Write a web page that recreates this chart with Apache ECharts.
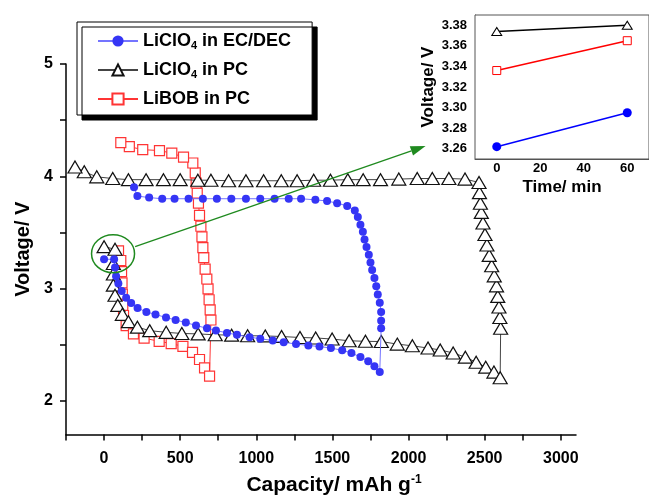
<!DOCTYPE html>
<html>
<head>
<meta charset="utf-8">
<script src="https://cdn.jsdelivr.net/npm/echarts@6/dist/echarts.min.js"></script>
<style>
html, body { margin: 0; padding: 0; background: #fff; }
#chart { width: 649px; height: 501px; }
</style>
</head>
<body>
<div id="chart"></div>
<script>
var FONT = "'Liberation Sans', Arial, sans-serif";

// main plot: capacity (mAh/g) / voltage (V), discharge branch then charge branch
var ecdecCap = [0, 66, 72, 79, 94, 116, 145, 178, 220, 278, 338, 407, 470, 537, 604, 676, 735, 807, 873, 956, 1026, 1108, 1180, 1261, 1342, 1415, 1490, 1564, 1625, 1684, 1735, 1776, 1811,
    1820, 1820, 1820, 1811, 1798, 1788, 1776, 1761, 1750, 1739, 1724, 1711, 1700, 1684, 1667, 1647, 1597, 1531, 1465, 1388, 1294, 1213, 1120, 1026, 932, 836, 741, 649, 555, 463, 382, 296, 219, 197];
var ecdecVolt = [3.262, 3.26, 3.188, 3.11, 3.045, 2.978, 2.917, 2.872, 2.826, 2.792, 2.769, 2.742, 2.72, 2.697, 2.671, 2.646, 2.627, 2.605, 2.588, 2.567, 2.553, 2.537, 2.521, 2.506, 2.493, 2.483, 2.47, 2.45, 2.426, 2.39, 2.353, 2.309, 2.256,
    2.646, 2.713, 2.792, 2.874, 2.948, 3.021, 3.094, 3.165, 3.232, 3.30, 3.37, 3.437, 3.505, 3.569, 3.637, 3.696, 3.736, 3.76, 3.78, 3.79, 3.80, 3.80, 3.80, 3.80, 3.80, 3.80, 3.80, 3.80, 3.80, 3.80, 3.80, 3.81, 3.824, 3.903];

var pcCap = [0, 72, 61, 61, 61, 72, 90, 120, 160, 219, 300, 408, 511, 618, 730, 838, 943, 1059, 1166, 1287, 1390, 1498, 1610, 1717, 1821, 1926, 2025, 2128, 2208, 2293, 2373, 2444, 2507, 2561, 2602,
    2605, 2600, 2594, 2586, 2578, 2563, 2546, 2530, 2515, 2502, 2489, 2478, 2472, 2466, 2463, 2371, 2265, 2156, 2057, 1936, 1816, 1702, 1601, 1487, 1377, 1268, 1164, 1048, 932, 818, 702, 616, 500, 390, 276, 160, 57, -48, -130, -191];
var pcVolt = [3.373, 3.35, 3.223, 3.13, 3.03, 2.94, 2.85, 2.77, 2.705, 2.656, 2.625, 2.61, 2.60, 2.596, 2.588, 2.585, 2.58, 2.578, 2.573, 2.564, 2.56, 2.55, 2.535, 2.53, 2.528, 2.505, 2.49, 2.47, 2.453, 2.426, 2.389, 2.344, 2.30, 2.256, 2.206,
    2.646, 2.742, 2.836, 2.93, 3.024, 3.113, 3.203, 3.295, 3.388, 3.481, 3.584, 3.678, 3.76, 3.854, 3.945, 3.975, 3.98, 3.98, 3.98, 3.975, 3.97, 3.97, 3.97, 3.965, 3.965, 3.96, 3.96, 3.96, 3.96, 3.96, 3.965, 3.965, 3.97, 3.97, 3.97, 3.97, 3.98, 3.995, 4.04, 4.083];

var bobCap = [95, 110, 115, 118, 120, 123, 128, 145, 193, 263, 362, 441, 518, 581, 627, 660, 693,
    702, 697, 690, 683, 675, 664, 655, 649, 643, 636, 627, 620, 612, 605, 599, 583, 522, 445, 364, 254, 166, 110];
var bobVolt = [3.336, 3.25, 3.15, 3.05, 2.95, 2.85, 2.76, 2.67, 2.596, 2.558, 2.53, 2.51, 2.485, 2.432, 2.368, 2.294, 2.22,
    2.72, 2.81, 2.90, 2.997, 3.085, 3.173, 3.276, 3.364, 3.461, 3.555, 3.652, 3.76, 3.85, 3.94, 4.03, 4.118, 4.17, 4.206, 4.229, 4.237, 4.264, 4.30];

// inset: open-circuit voltage after rest
var insetTime = [0, 60];
var insetEcdec = [3.262, 3.295];
var insetPc = [3.374, 3.380];
var insetBob = [3.336, 3.365];

var capTicks = [-250, 0, 250, 500, 750, 1000, 1250, 1500, 1750, 2000, 2250, 2500, 2750, 3000];
var capLabels = [0, 500, 1000, 1500, 2000, 2500, 3000];
var voltTicks = [2, 2.5, 3, 3.5, 4, 4.5, 5];
var voltLabels = [2, 3, 4, 5];
var insetVoltTicks = [3.25, 3.26, 3.27, 3.28, 3.29, 3.30, 3.31, 3.32, 3.33, 3.34, 3.35, 3.36, 3.37, 3.38, 3.39];
var insetVoltLabels = [3.26, 3.28, 3.30, 3.32, 3.34, 3.36, 3.38];
var insetTimeTicks = [-10, 0, 10, 20, 30, 40, 50, 60, 70];
var insetTimeLabels = [0, 20, 40, 60];

var legendNames = ['LiClO4 in EC/DEC', 'LiClO4 in PC', 'LiBOB in PC'];

function zip(xs, ys) {
    return xs.map(function (x, i) { return [x, ys[i]]; });
}

var myChart = echarts.init(document.getElementById('chart'), null, {renderer: 'canvas'});

var labelStyle = {color: '#000', fontFamily: FONT, fontWeight: 'bold', fontSize: 16};
var insetLabelStyle = {color: '#000', fontFamily: FONT, fontWeight: 'bold', fontSize: 13};

var option = {
    animation: false,
    backgroundColor: '#fff',
    textStyle: {fontFamily: FONT},
    grid: [
        {left: 66, right: 73, top: 64, bottom: 62},
        {left: 475, right: -3, top: 15, bottom: 342, show: true, borderColor: '#555', borderWidth: 1, backgroundColor: '#fff', z: 5}
    ],
    legend: {
        data: legendNames,
        orient: 'vertical',
        left: 77,
        top: 22,
        padding: [10, 21, 7, 20],
        itemGap: 9.5,
        itemWidth: 40,
        itemHeight: 14,
        backgroundColor: '#fff',
        borderColor: '#000',
        borderWidth: 1,
        shadowColor: '#000',
        shadowBlur: 0.01,
        shadowOffsetX: 5,
        shadowOffsetY: 5,
        formatter: function (name) {
            if (name.indexOf('LiClO4') === 0) {
                return '{n|LiClO}{s|4}{n|' + name.slice(6) + '}';
            }
            return '{n|' + name + '}';
        },
        textStyle: {
            rich: {
                n: {fontFamily: FONT, fontWeight: 'bold', fontSize: 18, color: '#000'},
                s: {fontFamily: FONT, fontWeight: 'bold', fontSize: 11, color: '#000', padding: [10, 0, 0, 0]}
            }
        }
    },
    xAxis: [
        {
            gridIndex: 0,
            type: 'value',
            min: -250,
            max: 3100,
            name: '{n|Capacity/ mAh g}{p|-1}',
            nameLocation: 'middle',
            nameGap: 39,
            nameTextStyle: {
                padding: [0, 0, 0, 26],
                rich: {
                    n: {fontFamily: FONT, fontWeight: 'bold', fontSize: 21, color: '#000'},
                    p: {fontFamily: FONT, fontWeight: 'bold', fontSize: 12, color: '#000', padding: [0, 0, 12, 0]}
                }
            },
            axisLine: {onZero: false, lineStyle: {color: '#000', width: 1.5}},
            axisTick: {length: 6, lineStyle: {color: '#000', width: 1.5}, customValues: capTicks},
            axisLabel: Object.assign({margin: 16, customValues: capLabels,
                formatter: function (v) { return String(v); }}, labelStyle),
            splitLine: {show: false}
        },
        {
            gridIndex: 1,
            type: 'value',
            min: -10,
            max: 70,
            name: 'Time/ min',
            nameLocation: 'middle',
            nameGap: 20,
            nameTextStyle: {fontFamily: FONT, fontWeight: 'bold', fontSize: 17, color: '#000'},
            axisLine: {onZero: false, lineStyle: {color: '#555', width: 1}},
            axisTick: {inside: true, length: 3, lineStyle: {color: '#555'}, customValues: insetTimeTicks},
            axisLabel: Object.assign({margin: 3, customValues: insetTimeLabels,
                formatter: function (v) { return String(v); }}, insetLabelStyle),
            splitLine: {show: false}
        }
    ],
    yAxis: [
        {
            gridIndex: 0,
            type: 'value',
            min: 1.7,
            max: 5,
            name: 'Voltage/ V',
            nameLocation: 'middle',
            nameGap: 28,
            nameTextStyle: {fontFamily: FONT, fontWeight: 'bold', fontSize: 20, color: '#000'},
            axisLine: {show: true, onZero: false, lineStyle: {color: '#000', width: 1.5}},
            axisTick: {show: true, length: 6, lineStyle: {color: '#000', width: 1.5}, customValues: voltTicks},
            axisLabel: Object.assign({margin: 13, customValues: voltLabels,
                formatter: function (v) { return String(v); }}, labelStyle),
            splitLine: {show: false}
        },
        {
            gridIndex: 1,
            type: 'value',
            min: 3.25,
            max: 3.39,
            name: 'Voltage/ V',
            nameLocation: 'middle',
            nameGap: 38,
            nameMoveOverlap: false,
            nameTextStyle: {fontFamily: FONT, fontWeight: 'bold', fontSize: 17, color: '#000'},
            axisLine: {show: true, onZero: false, lineStyle: {color: '#555', width: 1}},
            axisTick: {show: true, inside: true, length: 3, lineStyle: {color: '#555'}, customValues: insetVoltTicks},
            axisLabel: Object.assign({margin: 8, customValues: insetVoltLabels,
                formatter: function (v) { return v.toFixed(2); }}, insetLabelStyle),
            splitLine: {show: false}
        }
    ],
    series: [
        {
            name: legendNames[0],
            type: 'line',
            data: zip(ecdecCap, ecdecVolt),
            symbol: 'circle',
            symbolSize: 8,
            itemStyle: {color: '#3535f5'},
            lineStyle: {color: '#7474ff', width: 1},
            z: 4
        },
        {
            name: legendNames[1],
            type: 'line',
            data: zip(pcCap, pcVolt),
            symbol: 'triangle',
            symbolSize: [14, 12],
            itemStyle: {color: '#fff', borderColor: '#111', borderWidth: 1.2},
            lineStyle: {color: '#444', width: 1},
            z: 3
        },
        {
            name: legendNames[2],
            type: 'line',
            data: zip(bobCap, bobVolt),
            symbol: 'rect',
            symbolSize: 10,
            itemStyle: {color: '#fff', borderColor: '#ff3434', borderWidth: 1.2},
            lineStyle: {color: '#ff3434', width: 1},
            z: 2
        },
        {
            name: 'inset EC/DEC',
            type: 'line',
            xAxisIndex: 1,
            yAxisIndex: 1,
            data: zip(insetTime, insetEcdec),
            symbol: 'circle',
            symbolSize: 9,
            itemStyle: {color: '#0000ff'},
            lineStyle: {color: '#0000ff', width: 1.5},
            z: 6
        },
        {
            name: 'inset PC',
            type: 'line',
            xAxisIndex: 1,
            yAxisIndex: 1,
            data: zip(insetTime, insetPc),
            symbol: 'triangle',
            symbolSize: [10, 8],
            itemStyle: {color: '#fff', borderColor: '#000', borderWidth: 1},
            lineStyle: {color: '#000', width: 1.5},
            z: 6
        },
        {
            name: 'inset BOB',
            type: 'line',
            xAxisIndex: 1,
            yAxisIndex: 1,
            data: zip(insetTime, insetBob),
            symbol: 'rect',
            symbolSize: 8,
            itemStyle: {color: '#fff', borderColor: '#ff0000', borderWidth: 1},
            lineStyle: {color: '#ff0000', width: 1.5},
            z: 6
        }
    ]
};

myChart.setOption(option);

// green circle around the initial points and arrow towards the inset
var c = myChart.convertToPixel({gridIndex: 0}, [59, 3.31]);
var a0 = myChart.convertToPixel({gridIndex: 0}, [204, 3.373]);
var a1 = myChart.convertToPixel({gridIndex: 0}, [2112, 4.27]);
var ang = Math.atan2(a1[1] - a0[1], a1[0] - a0[0]);
var hl = 15, hw = 5;
var bx = a1[0] - hl * Math.cos(ang), by = a1[1] - hl * Math.sin(ang);
var nx = -Math.sin(ang), ny = Math.cos(ang);

myChart.setOption({
    graphic: [
        {type: 'ellipse', shape: {cx: c[0], cy: c[1], rx: 21.5, ry: 19}, style: {fill: null, stroke: '#1f8a1f', lineWidth: 1.5}, z: 10},
        {type: 'line', shape: {x1: a0[0], y1: a0[1], x2: bx, y2: by}, style: {stroke: '#1f8a1f', lineWidth: 1.3}, z: 10},
        {type: 'polygon', shape: {points: [[a1[0], a1[1]], [bx + nx * hw, by + ny * hw], [bx - nx * hw, by - ny * hw]]}, style: {fill: '#1f8a1f'}, z: 10}
    ]
});
</script>
</body>
</html>
